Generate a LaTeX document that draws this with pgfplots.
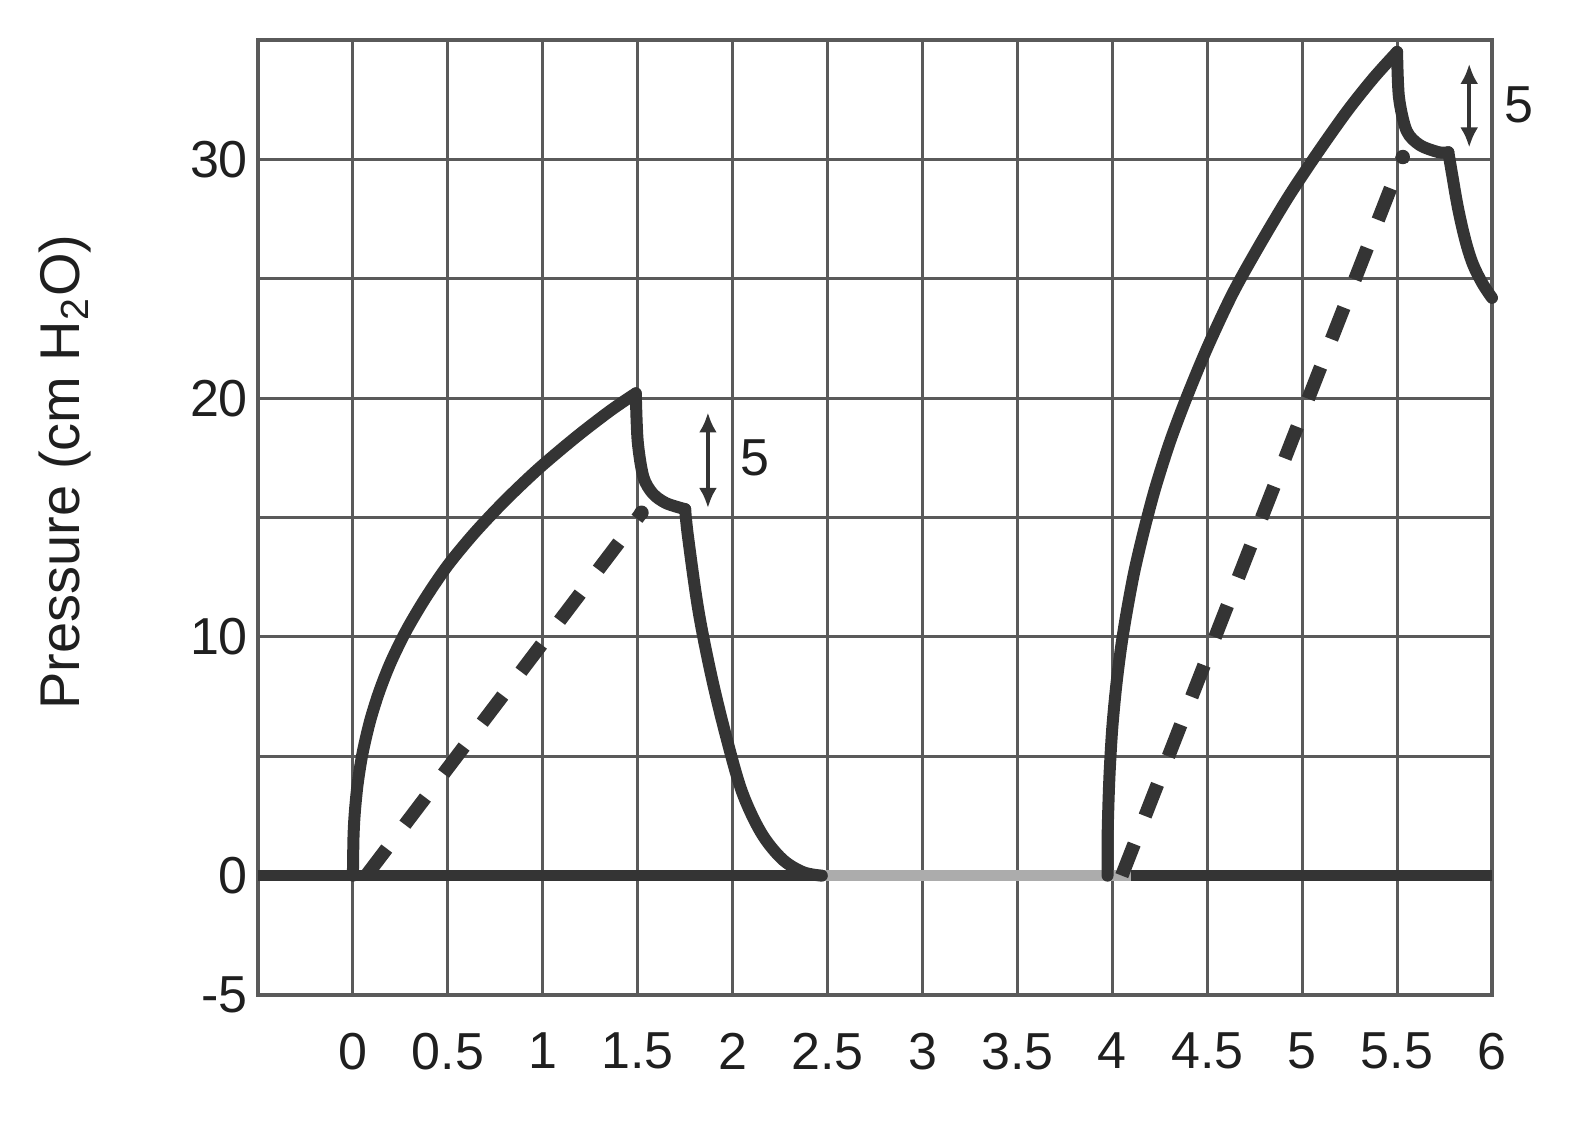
\documentclass[border=0pt]{standalone}
\usepackage{fontspec}
\setmainfont{Liberation Sans}
\usepackage{pgfplots}
\pgfplotsset{compat=1.18}
\usetikzlibrary{arrows.meta}
\definecolor{ink}{HTML}{343434}
\definecolor{gridc}{HTML}{5A5A5A}
\begin{document}
\begin{tikzpicture}
\useasboundingbox (-64.5pt,-33.25pt) rectangle (328.5pt,248.75pt);
\begin{axis}[
  at={(0,0)}, anchor=south west,
  scale only axis, width=308.5pt, height=238.75pt,
  xmin=-0.5, xmax=6, ymin=-5, ymax=35,
  clip=false,
  axis line style={gridc, line width=0.8pt},
  xtick={0,0.5,1,1.5,2,2.5,3,3.5,4,4.5,5,5.5,6},
  xticklabels={0,0.5,1,1.5,2,2.5,3,3.5,4,4.5,5,5.5,6},
  ytick={-5,0,5,10,15,20,25,30,35},
  yticklabels={-5,0,,10,,20,,30,},
  major tick length=0pt,
  grid=major,
  major grid style={gridc, line width=0.75pt},
  tick label style={font=\fontsize{13}{15}\selectfont, text=black!88},
  xticklabel style={yshift=-6pt},
  yticklabel style={xshift=1pt},
]
% baseline
\addplot[ink, line width=2.8pt, no markers] coordinates {(-0.5,0) (2.45,0)};
\addplot[gray!65, line width=2.8pt, no markers] coordinates {(2.45,0) (4.1,0)};
\addplot[ink, line width=2.8pt, no markers] coordinates {(4.1,0) (6,0)};

% breath 1 - solid
\addplot[ink, line width=3pt, line cap=round, line join=round, smooth, tension=0.5, no markers] coordinates {
 (0,0) (0.003,1.6) (0.01,2.65) (0.025,3.85) (0.05,5.1) (0.09,6.47) (0.14,7.74) (0.2,8.95)
 (0.28,10.25) (0.38,11.6) (0.5,13.0) (0.64,14.35) (0.8,15.7) (0.98,17.06) (1.18,18.4) (1.36,19.5) (1.49,20.2)};
\addplot[ink, line width=3pt, line cap=round, line join=round, smooth, tension=0.5, no markers] coordinates {
 (1.49,20.2) (1.50,18.2) (1.53,16.7) (1.58,16.0) (1.65,15.6) (1.75,15.35)};
\addplot[ink, line width=3pt, line cap=round, line join=round, smooth, tension=0.55, no markers] coordinates {
 (1.75,15.35) (1.765,14.2) (1.82,11.1) (1.89,8.3) (1.97,5.7) (2.05,3.5) (2.15,1.8) (2.26,0.7) (2.37,0.15) (2.47,0)};
% breath 1 - dashed
\addplot[ink, line width=3.4pt, dash pattern=on 8.5pt off 7.5pt, no markers] coordinates {(0.07,0) (1.52,15.2)};
\addplot[ink, only marks, mark=*, mark size=1.6pt] coordinates {(1.52,15.2)};

% breath 2 - solid
\addplot[ink, line width=3pt, line cap=round, line join=round, smooth, tension=0.5, no markers] coordinates {
 (3.975,0) (3.975,1.5) (3.98,3.1) (3.987,4.5) (4.0,6.2) (4.02,7.9) (4.045,9.5) (4.075,11.0) (4.115,12.7)
 (4.165,14.4) (4.225,16.2) (4.305,18.2) (4.395,20.1) (4.505,22.2) (4.635,24.4) (4.775,26.4) (4.925,28.4)
 (5.075,30.2) (5.235,32.0) (5.375,33.4) (5.5,34.5)};
\addplot[ink, line width=3pt, line cap=round, line join=round, smooth, tension=0.5, no markers] coordinates {
 (5.5,34.5) (5.51,32.6) (5.55,31.2) (5.62,30.6) (5.72,30.3) (5.77,30.3)};
\addplot[ink, line width=3pt, line cap=round, line join=round, smooth, tension=0.55, no markers] coordinates {
 (5.77,30.3) (5.785,29.6) (5.82,28.0) (5.86,26.6) (5.9,25.6) (5.95,24.8) (6.0,24.2)};
% breath 2 - dashed
\addplot[ink, line width=3.4pt, dash pattern=on 8.5pt off 7.5pt, no markers] coordinates {(4.05,0) (5.53,30.1)};
\addplot[ink, only marks, mark=*, mark size=1.6pt] coordinates {(5.53,30.1)};

% annotations
\draw[{Latex[length=5pt,width=4.5pt]}-{Latex[length=5pt,width=4.5pt]}, line width=1.1pt, ink]
  (axis cs:1.87,15.4) -- (axis cs:1.87,19.4);
\node[font=\fontsize{13}{15}\selectfont, text=black!88] at (axis cs:2.12,17.5) {5};
\draw[{Latex[length=5pt,width=4.5pt]}-{Latex[length=5pt,width=4.5pt]}, line width=1.1pt, ink]
  (axis cs:5.88,30.5) -- (axis cs:5.88,34.0);
\node[font=\fontsize{13}{15}\selectfont, text=black!88] at (axis cs:6.14,32.3) {5};

\node[rotate=90, font=\fontsize{14}{16}\selectfont, text=black!88] at (rel axis cs:-0.1564,0.5476) {Pressure (cm H\textsubscript{2}O)};
\end{axis}
\end{tikzpicture}
\end{document}
